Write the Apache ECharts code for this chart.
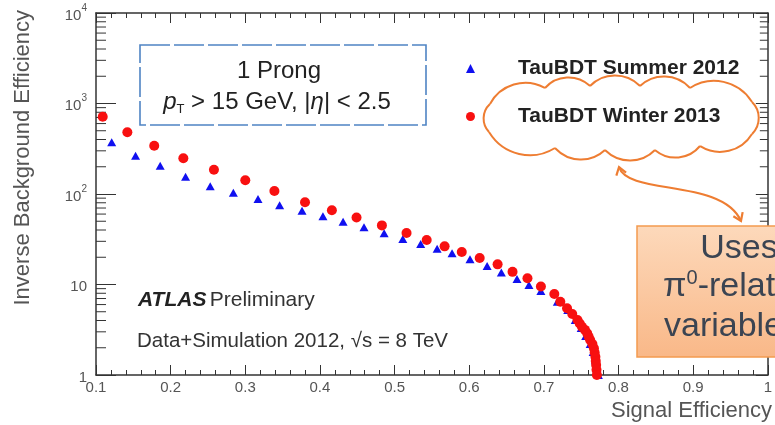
<!DOCTYPE html>
<html><head><meta charset="utf-8">
<script src="https://cdn.jsdelivr.net/npm/echarts@6/dist/echarts.min.js"></script>
<style>html,body{margin:0;padding:0;background:#fff}#c{width:775px;height:425px}</style>
</head><body><div id="c"></div>
<script>
// ---- data ----
const seriesNames = ['TauBDT Summer 2012', 'TauBDT Winter 2013'];

const summer2012Eff = [0.121,0.153,0.186,0.220,0.253,0.284,0.317,0.346,0.376,0.404,0.431,0.459,0.486,0.511,0.535,0.557,0.577,0.601,0.624,0.643,0.664,0.680,0.696,0.718,0.732,0.742,0.750,0.756,0.762,0.766,0.769,0.771,0.773];
const summer2012InvBkg = [373,265,205,155,122,103,88,75,65.3,56.7,49.4,42.9,36.8,31.8,28.0,24.9,22.1,19.0,16.0,13.6,11.5,9.87,8.47,6.45,5.23,4.05,3.31,2.70,2.20,1.80,1.46,1.19,1.0];

const winter2013Eff = [0.109,0.142,0.178,0.217,0.258,0.300,0.339,0.380,0.416,0.449,0.483,0.516,0.543,0.567,0.590,0.614,0.638,0.658,0.678,0.696,0.714,0.722,0.731,0.738,0.745,0.748,0.751,0.755,0.758,0.760,0.762,0.765,0.767,0.768,0.769,0.7695,0.770,0.7705,0.771];
const winter2013InvBkg = [714,481,342,248,185,142,108,81,66,55,45,37,31,26.4,22.9,19.6,16.7,13.8,11.7,9.5,7.85,6.45,5.46,4.72,4.05,3.7,3.42,3.15,2.89,2.65,2.44,2.2,1.97,1.77,1.59,1.43,1.29,1.14,1.0];

const xTickLabels = ['0.1','0.2','0.3','0.4','0.5','0.6','0.7','0.8','0.9','1'];
const yTickLabels = ['1','10','10^2','10^3','10^4'];
const yMinorTickValues = [2,3,4,5,6,7,8,9,20,30,40,50,60,70,80,90,200,300,400,500,600,700,800,900,2000,3000,4000,5000,6000,7000,8000,9000];

// ---- helpers ----
const FONT = 'Liberation Sans, Arial, Helvetica, sans-serif';
function zip(xs, ys){ return xs.map((x,i)=>[x, ys[i]]); }
const ORANGE = '#ee7d32';

const cloudAnchors = [[489,132],[490,104],[545,88],[590,86],[640,86],[690,88],[752,102],[752,134],[700,146],[655,150],[605,150],[555,148]];
function cloudArcs(pts){
  const out = [];
  for (let i = 0; i < pts.length; i++) {
    const a = pts[i], b = pts[(i + 1) % pts.length];
    const dx = b[0]-a[0], dy = b[1]-a[1];
    const c = Math.hypot(dx, dy), ux = dx/c, uy = dy/c;
    const r = c * 0.7, h = c / 2, d = Math.sqrt(r*r - h*h);
    const mx = (a[0]+b[0])/2, my = (a[1]+b[1])/2;
    const cx = mx - uy*d, cy = my + ux*d;
    out.push({type: 'arc', z: 60, silent: true,
      shape: {cx: cx, cy: cy, r: r,
        startAngle: Math.atan2(a[1]-cy, a[0]-cx), endAngle: Math.atan2(b[1]-cy, b[0]-cx), clockwise: true},
      style: {fill: 'none', stroke: ORANGE, lineWidth: 2}});
  }
  return out;
}
function chevron(tip, from, len, ang){
  const dx = tip[0]-from[0], dy = tip[1]-from[1];
  const L = Math.hypot(dx, dy), ux = dx/L, uy = dy/L;
  const w = s => {
    const c = Math.cos(s*ang), sn = Math.sin(s*ang);
    const rx = ux*c - uy*sn, ry = ux*sn + uy*c;
    return [tip[0] - rx*len, tip[1] - ry*len];
  };
  return [w(1), tip, w(-1)];
}
const arrowStart = [619,167], arrowC1 = [628,196], arrowC2 = [722,178], arrowEnd = [741,221];

const chart = echarts.init(document.getElementById('c'), null, {renderer: 'canvas'});

const axisLine = {show: true, lineStyle: {color: '#333', width: 1.5}};
const xCommon = {
  type: 'value', min: 0.1, max: 1, interval: 0.1,
  axisLine: axisLine, splitLine: {show: false},
  minorTick: {show: true, splitNumber: 5, length: 5, lineStyle: {color: '#333', width: 1}},
  minorSplitLine: {show: false}
};

chart.setOption({
  animation: false,
  backgroundColor: '#fff',
  grid: {left: 96, right: 4, top: 13, bottom: 50, containLabel: false},
  legend: {
    data: seriesNames, orient: 'vertical', left: 461, top: 53,
    itemWidth: 9, itemHeight: 9, itemGap: 27,
    formatter: n => '{t|' + n + '}',
    textStyle: {rich: {t: {fontSize: 21, fontWeight: 'bold', color: '#222', fontFamily: FONT, padding: [0,0,0,38], lineHeight: 24}}}
  },
  xAxis: [
    Object.assign({}, xCommon, {
      position: 'bottom',
      axisTick: {show: true, inside: true, length: 10, lineStyle: {color: '#333', width: 1}},
      axisLabel: {show: true, margin: 5, fontSize: 15, color: '#555', fontFamily: FONT,
        formatter: v => xTickLabels[Math.round((v - 0.1) / 0.1)] || ''}
    }),
    Object.assign({}, xCommon, {
      position: 'top',
      axisTick: {show: true, inside: true, length: 10, lineStyle: {color: '#333', width: 1}},
      axisLabel: {show: false}
    })
  ],
  yAxis: [
    {
      type: 'log', logBase: 10, min: 1, max: 10000, position: 'left',
      axisLine: axisLine, splitLine: {show: false},
      axisTick: {show: true, inside: true, length: 20, lineStyle: {color: '#333', width: 1}},
      axisLabel: {
        show: true, margin: 9, fontSize: 15, color: '#555', fontFamily: FONT,
        formatter: v => {
          const k = Math.round(Math.log10(v));
          const s = yTickLabels[k] || '';
          const p = s.split('^');
          return p.length > 1 ? '{b|' + p[0] + '}{s|' + p[1] + '}' : '{b|' + s + '}';
        },
        rich: {
          b: {fontSize: 15, color: '#555', fontFamily: FONT, lineHeight: 20, verticalAlign: 'bottom'},
          s: {fontSize: 10, color: '#555', fontFamily: FONT, lineHeight: 10, verticalAlign: 'top'}
        }
      }
    },
    {
      type: 'log', logBase: 10, min: 1, max: 10000, position: 'right',
      axisLine: axisLine, splitLine: {show: false},
      axisTick: {show: true, inside: true, length: 12, lineStyle: {color: '#333', width: 1}},
      axisLabel: {show: false}
    }
  ],
  series: [
    {
      type: 'custom', name: 'yMinorTicks', silent: true, clip: false,
      xAxisIndex: 0, yAxisIndex: 0,
      data: yMinorTickValues.map(v => [0.1, v]),
      renderItem: (params, api) => {
        const cs = params.coordSys;
        const p = api.coord([0.1, api.value(1)]);
        const st = {stroke: '#333', lineWidth: 1};
        return {type: 'group', children: [
          {type: 'line', shape: {x1: cs.x, y1: p[1], x2: cs.x + 10, y2: p[1]}, style: st},
          {type: 'line', shape: {x1: cs.x + cs.width - 8, y1: p[1], x2: cs.x + cs.width, y2: p[1]}, style: st}
        ]};
      },
      z: 1
    },
    {
      name: seriesNames[0], type: 'scatter', symbol: 'triangle', symbolSize: [9, 8],
      itemStyle: {color: '#1010f0', opacity: 1}, clip: false,
      data: zip(summer2012Eff, summer2012InvBkg), z: 3
    },
    {
      name: seriesNames[1], type: 'scatter', symbol: 'circle', symbolSize: 10,
      itemStyle: {color: '#f81010', opacity: 1}, clip: false,
      data: zip(winter2013Eff, winter2013InvBkg), z: 4
    }
  ],
  graphic: {elements: [
    // axis titles
    {type: 'text', x: 23, y: 10, rotation: Math.PI / 2,
      style: {text: 'Inverse Background Efficiency', align: 'right', verticalAlign: 'middle', fontSize: 22, fontFamily: FONT, fill: '#555'}},
    {type: 'text', x: 772, y: 411,
      style: {text: 'Signal Efficiency', align: 'right', verticalAlign: 'middle', fontSize: 22, fontFamily: FONT, fill: '#555'}},
    // selection box
    {type: 'rect', shape: {x: 140, y: 45, width: 286, height: 80}, z: 50,
      style: {fill: 'rgba(0,0,0,0)', stroke: '#4f84c4', lineWidth: 1.6, lineDash: [30, 4]}},
    {type: 'text', x: 279, y: 71, z: 51,
      style: {text: '1 Prong', align: 'center', verticalAlign: 'middle', fontSize: 24, fontFamily: FONT, fill: '#222'}},
    {type: 'text', x: 277, y: 103, z: 51,
      style: {text: '{i|p}{sub|T}{n| > 15 GeV, |}{i|η}{n|| < 2.5}', align: 'center', verticalAlign: 'middle',
        fontSize: 24, fontFamily: FONT, fill: '#222',
        rich: {
          n: {fontSize: 24, fontFamily: FONT, fill: '#222', lineHeight: 26, verticalAlign: 'top'},
          i: {fontSize: 24, fontFamily: FONT, fontStyle: 'italic', fill: '#222', lineHeight: 26, verticalAlign: 'top'},
          sub: {fontSize: 13, fontFamily: FONT, fill: '#222', lineHeight: 13, verticalAlign: 'bottom'}
        }}},
    // ATLAS labels
    {type: 'text', x: 138, y: 300,
      style: {text: '{a|ATLAS} {p|Preliminary}', align: 'left', verticalAlign: 'middle',
        rich: {
          a: {fontSize: 21, fontFamily: FONT, fontWeight: 'bold', fontStyle: 'italic', fill: '#222'},
          p: {fontSize: 21, fontFamily: FONT, fill: '#333'}
        }}},
    {type: 'text', x: 137, y: 341,
      style: {text: 'Data+Simulation 2012, √s = 8 TeV', align: 'left', verticalAlign: 'middle', fontSize: 20.5, fontFamily: FONT, fill: '#333'}},
    // cloud
    ...cloudArcs(cloudAnchors),
    // curved arrow
    {type: 'bezierCurve', z: 60,
      shape: {x1: arrowStart[0], y1: arrowStart[1], cpx1: arrowC1[0], cpy1: arrowC1[1], cpx2: arrowC2[0], cpy2: arrowC2[1], x2: arrowEnd[0], y2: arrowEnd[1]},
      style: {fill: 'none', stroke: ORANGE, lineWidth: 2.2}},
    {type: 'polyline', z: 60, shape: {points: chevron(arrowStart, arrowC1, 9, 0.6)},
      style: {fill: 'none', stroke: ORANGE, lineWidth: 2.2}},
    {type: 'polyline', z: 60, shape: {points: chevron(arrowEnd, arrowC2, 9, 0.6)},
      style: {fill: 'none', stroke: ORANGE, lineWidth: 2.2}},
    // orange note box
    {type: 'rect', z: 70, shape: {x: 637, y: 226, width: 200, height: 131},
      style: {
        fill: {type: 'linear', x: 0, y: 0, x2: 0, y2: 1, colorStops: [{offset: 0, color: '#fdd9bb'}, {offset: 1, color: '#f9b888'}]},
        stroke: '#f39a4f', lineWidth: 1.5}},
    {type: 'text', z: 71, x: 739, y: 249,
      style: {text: 'Uses', align: 'center', verticalAlign: 'middle', fontSize: 34, fontFamily: FONT, fill: '#3b4452'}},
    {type: 'text', z: 71, x: 738, y: 286,
      style: {text: '{m|π}{s|0}{m|-related}', align: 'center', verticalAlign: 'middle',
        rich: {
          m: {fontSize: 34, fontFamily: FONT, fill: '#3b4452', lineHeight: 36, verticalAlign: 'bottom'},
          s: {fontSize: 20, fontFamily: FONT, fill: '#3b4452', lineHeight: 20, verticalAlign: 'top'}
        }}},
    {type: 'text', z: 71, x: 732, y: 327,
      style: {text: 'variables', align: 'center', verticalAlign: 'middle', fontSize: 34, fontFamily: FONT, fill: '#3b4452'}}
  ]}
});
</script>
</body></html>
